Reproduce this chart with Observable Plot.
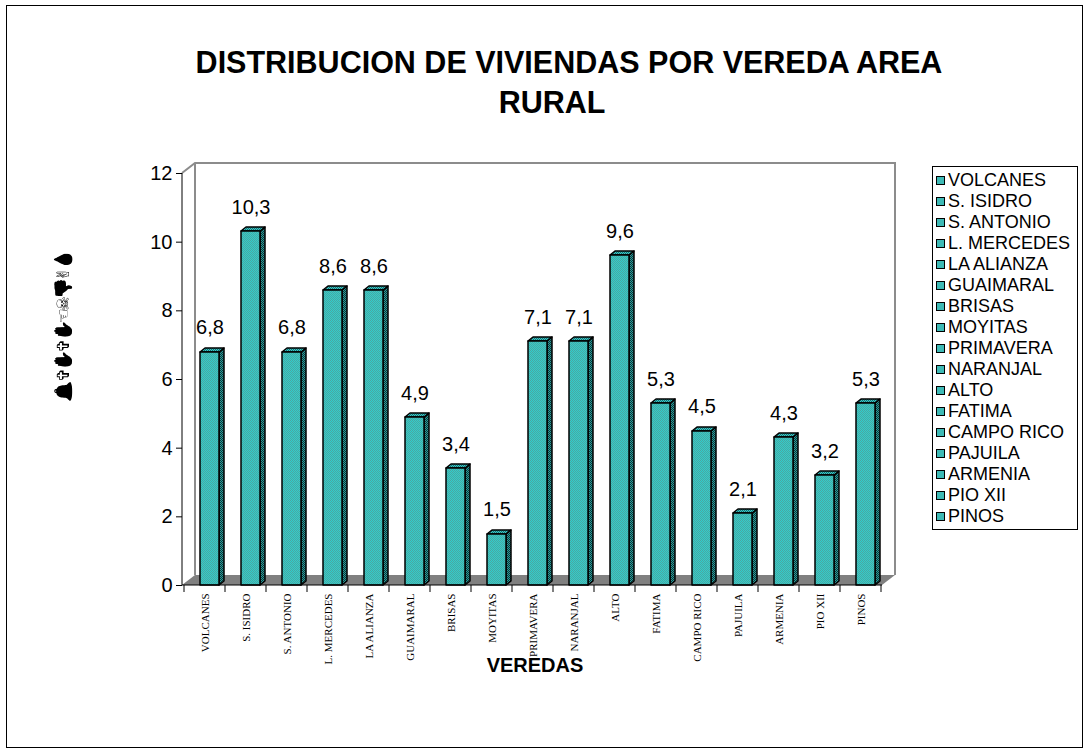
<!DOCTYPE html>
<html><head><meta charset="utf-8">
<script src="https://cdn.jsdelivr.net/npm/d3@7"></script>
<script src="https://cdn.jsdelivr.net/npm/@observablehq/plot@0.6"></script>
<style>
body{margin:0;background:#fff;}
#wrap{position:relative;width:1089px;height:753px;overflow:hidden;font-family:Arial,"Liberation Sans",sans-serif;color:#000;}
#border{position:absolute;left:6px;top:5px;width:1077px;height:743px;border:1px solid #000;box-sizing:border-box;}
.t{position:absolute;white-space:nowrap;font-weight:bold;font-size:30.5px;transform:translate(-50%,-50%);}
#chart{position:absolute;left:0;top:0;}
#xlab{position:absolute;left:535px;top:665px;transform:translate(-50%,-50%);font-weight:bold;font-size:20px;}
#ylab{position:absolute;left:63px;top:327px;transform:translate(-50%,-50%) rotate(-90deg);font-size:17px;letter-spacing:-3px;white-space:nowrap;font-family:"DejaVu Sans",sans-serif;filter:grayscale(1) brightness(0);}
#legend{position:absolute;left:932px;top:166px;width:146px;height:364px;border:1px solid #000;box-sizing:border-box;padding-top:3px;}
.li{height:21px;line-height:21px;font-size:18px;white-space:nowrap;display:flex;align-items:center;}
.sw{width:7px;height:7px;border:1px solid #000;margin-left:3px;margin-right:3px;flex:none;background:#3ebab6;}
</style>
</head><body>
<div id="wrap">
  <div id="border"></div>
  <div class="t" style="left:569px;top:62px">DISTRIBUCION DE VIVIENDAS POR VEREDA AREA</div>
  <div class="t" style="left:552px;top:102px">RURAL</div>
  <div id="chart"></div>
  <div id="ylab">🔔 ✞✋✞✋☜☠👎✌💧</div>
  <div id="xlab">VEREDAS</div>
  <div id="legend"></div>
</div>
<script>
const categories = ["VOLCANES","S. ISIDRO","S. ANTONIO","L. MERCEDES","LA ALIANZA","GUAIMARAL","BRISAS","MOYITAS","PRIMAVERA","NARANJAL","ALTO","FATIMA","CAMPO RICO","PAJUILA","ARMENIA","PIO XII","PINOS"];
const values = [6.8,10.3,6.8,8.6,8.6,4.9,3.4,1.5,7.1,7.1,9.6,5.3,4.5,2.1,4.3,3.2,5.3];
const yTicks = [0,2,4,6,8,10,12];
const yMax = 12;

const data = categories.map((c,i)=>({vereda:c, viviendas:values[i]}));
const NS = "http://www.w3.org/2000/svg";
function el(tag, attrs){const e=document.createElementNS(NS,tag); for(const k in attrs) e.setAttribute(k, attrs[k]); return e;}
function checker(id, a, b){
  const p = el("pattern",{id, width:2, height:2, patternUnits:"userSpaceOnUse"});
  p.append(el("rect",{width:2,height:2,fill:a}));
  p.append(el("rect",{x:0,y:0,width:1,height:1,fill:b}));
  p.append(el("rect",{x:1,y:1,width:1,height:1,fill:b}));
  return p;
}
const WDX = 13, WDY = -10;   // wall depth
const BDX = 5, BDY = -4;     // bar depth

function backdrop(index, scales, values, dim){
  const g = el("g",{});
  const defs = el("defs",{});
  defs.append(checker("pFront","#33cccc","#4aa8a0"));
  defs.append(checker("pSide","#2a9a9a","#0b3535"));
  defs.append(checker("pTop","#33cccc","#1d6a6a"));
  g.append(defs);
  const x0 = dim.marginLeft, x1 = dim.width - dim.marginRight;
  const yb = scales.y(0), yt = scales.y(yMax);
  g.append(el("polygon",{points:`${x0},${yb} ${x1},${yb} ${x1+WDX},${yb+WDY} ${x0+WDX},${yb+WDY}`, fill:"#808080"}));
  g.append(el("path",{d:`M${x0},${yt}L${x0+WDX},${yt+WDY}H${x1+WDX}V${yb+WDY}M${x0+WDX},${yt+WDY}V${yb+WDY}`, fill:"none", stroke:"#8c8c8c", "stroke-width":2}));
  return g;
}
function bars3d(index, scales, values, dim){
  const g = el("g",{stroke:"#000","stroke-width":1.5,"stroke-linejoin":"round"});
  const bw = scales.x(categories[1]) - scales.x(categories[0]);
  const yb = Math.round(scales.y(0));
  data.forEach(d=>{
    const xs = scales.x(d.vereda);
    const fx1 = Math.round(xs + bw*0.39), fx2 = Math.round(xs + bw*0.85);
    const fy = Math.round(scales.y(d.viviendas));
    g.append(el("polygon",{points:`${fx2},${fy} ${fx2+BDX},${fy+BDY} ${fx2+BDX},${yb+BDY} ${fx2},${yb}`, fill:"url(#pSide)"}));
    g.append(el("polygon",{points:`${fx1},${fy} ${fx1+BDX},${fy+BDY} ${fx2+BDX},${fy+BDY} ${fx2},${fy}`, fill:"url(#pTop)"}));
    g.append(el("rect",{x:fx1, y:fy, width:fx2-fx1, height:yb-fy, fill:"url(#pFront)"}));
  });
  return g;
}
function axisLines(index, scales, values, dim){
  const g = el("g",{stroke:"#000","stroke-width":1});
  const x0 = dim.marginLeft, x1 = dim.width - dim.marginRight;
  const yb = scales.y(0), yt = scales.y(yMax);
  g.append(el("line",{x1:x0,x2:x0,y1:yt,y2:yb}));
  g.append(el("line",{x1:x0,x2:x1,y1:yb,y2:yb}));
  const bw = scales.x(categories[1]) - scales.x(categories[0]);
  categories.forEach((c,i)=>{
    const xs = scales.x(c);
    g.append(el("line",{x1:xs,x2:xs,y1:yb,y2:yb+7}));
    if(i===categories.length-1) g.append(el("line",{x1:xs+bw,x2:xs+bw,y1:yb,y2:yb+7}));
  });
  return g;
}

const plot = Plot.plot({
  width:1089, height:753,
  marginLeft:182, marginRight:207, marginTop:173, marginBottom:168,
  style:{background:"transparent", fontFamily:"Arial, 'Liberation Sans', sans-serif", color:"#000"},
  x:{type:"band", domain:categories, padding:0, label:null},
  y:{domain:[0,yMax], label:null},
  marks:[
    backdrop,
    bars3d,
    axisLines,
    Plot.text(data,{x:"vereda", y:"viviendas", text:d=>String(d.viviendas).replace(".",","), dx:5, dy:-24, fontSize:20, fill:"#000"}),
    Plot.axisY({ticks:yTicks, tickSize:6, tickPadding:4, fontSize:20, label:null, stroke:"#000", fill:"#000"}),
    Plot.axisX({tickSize:0, tickRotate:-90, tickPadding:8, fontSize:11, fontFamily:"'Liberation Serif', 'Times New Roman', serif", label:null, fill:"#000"})
  ]
});
document.getElementById("chart").append(plot);

const lg = document.getElementById("legend");
categories.forEach(c=>{
  const row = document.createElement("div"); row.className="li";
  const sw = document.createElement("span"); sw.className="sw";
  const tx = document.createElement("span"); tx.textContent=c;
  row.append(sw, tx); lg.append(row);
});
</script>
</body></html>
